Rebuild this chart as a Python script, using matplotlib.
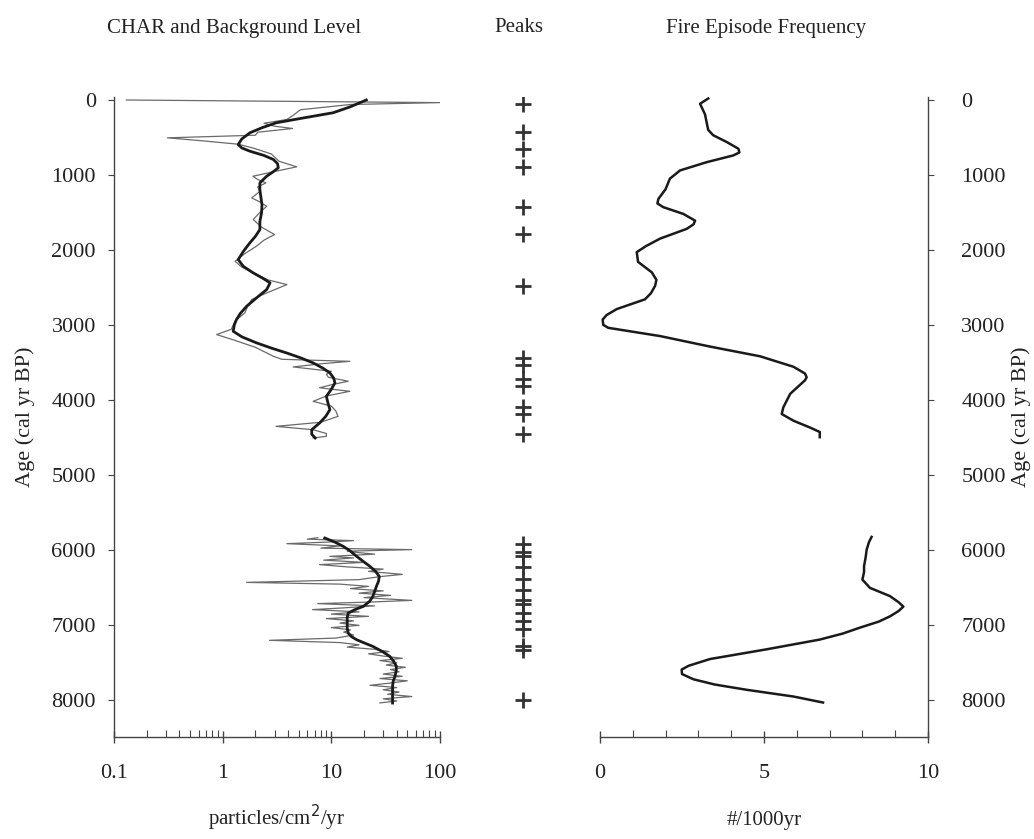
import matplotlib
matplotlib.use("Agg")
import matplotlib.pyplot as plt
from matplotlib.ticker import FixedLocator, LogLocator, NullFormatter, MultipleLocator

plt.rcParams['font.family'] = ['Liberation Serif', 'DejaVu Serif']

# ---------------- data ----------------
char_top_age = [0, 35, 60, 130, 200, 260, 310, 350, 380, 430, 470, 505, 540, 590, 650, 720,
                817, 892, 950, 1017, 1060, 1106, 1160, 1220, 1306, 1360, 1418, 1500, 1595, 1700,
                1795, 1870, 1950, 2050, 2152, 2230, 2307, 2400, 2463, 2575, 2663, 2750, 2841,
                2950, 3060, 3130, 3200, 3300, 3420, 3460, 3487, 3520, 3562, 3620, 3660, 3700,
                3753, 3800, 3840, 3887, 3950, 4021, 4085, 4150, 4221, 4300, 4355, 4400, 4450,
                4488, 4510]
char_top_val = [0.13, 100, 15, 5.2, 4.5, 3.9, 2.4, 3.0, 4.4, 2.1, 2.0, 0.31, 0.6, 1.4, 2.0, 2.8,
                3.3, 4.8, 3.1, 1.9, 2.1, 2.5, 2.1, 2.2, 1.85, 2.2, 2.54, 2.2, 1.91, 2.3,
                3.0, 2.4, 2.05, 1.6, 1.3, 1.5, 1.91, 2.6, 3.9, 2.54, 1.85, 1.7, 1.6,
                1.3, 1.2, 0.88, 1.25, 2.0, 2.93, 3.5, 14.8, 8, 4.45, 10, 9, 9.4,
                14.3, 10, 7.8, 14.8, 9, 6.8, 10, 11, 11.5, 8, 3.1, 6.8, 9,
                9.0, 6.8]

char_bot_age = [5840, 5860, 5880, 5900, 5920, 5950, 5980, 6000, 6020, 6040, 6060, 6090, 6110,
                6140, 6170, 6200, 6230, 6260, 6290, 6330, 6360, 6400, 6437, 6460, 6490, 6520,
                6550, 6580, 6610, 6640, 6677, 6700, 6720, 6750, 6780, 6800, 6830, 6860, 6890,
                6920, 6950, 6980, 7010, 7040, 7070, 7100, 7140, 7180, 7210, 7240, 7270, 7300,
                7330, 7360, 7390, 7420, 7450, 7480, 7510, 7540, 7570, 7600, 7630, 7660, 7690,
                7720, 7750, 7780, 7810, 7840, 7870, 7900, 7930, 7960, 7990, 8020, 8045]
char_bot_val = [7.5, 6, 16, 9, 3.9, 12, 8, 55, 14, 18, 25, 9.7, 16,
                8.5, 20, 7.8, 14, 30, 22, 45, 28, 18, 1.66, 12, 22, 15,
                30, 18, 35, 20, 55, 22, 7.5, 25, 12, 6.7, 18, 10, 22,
                9, 16, 12, 18, 10, 15, 13, 16, 11, 2.7, 12, 18, 14,
                25, 34, 22, 30, 45, 28, 40, 32, 48, 35, 42, 30, 45,
                28, 50, 35, 22.7, 40, 30, 42, 33, 55, 30, 40, 28]

bg_top_age = [0, 90, 170, 240, 305, 370, 438, 520, 594, 640, 683, 740, 794, 850, 905, 960,
              1017, 1106, 1200, 1300, 1400, 1506, 1620, 1729, 1820, 1906, 2020, 2129, 2220,
              2307, 2380, 2440, 2530, 2640, 2753, 2850, 2930, 3000, 3086, 3160, 3241, 3310,
              3375, 3440, 3508, 3580, 3642, 3710, 3775, 3860, 3954, 4040, 4132, 4220, 4310,
              4399, 4460, 4510]
bg_top_val = [21, 15, 10.4, 5.5, 3.1, 2.3, 1.78, 1.5, 1.39, 1.5, 1.78, 2.4, 2.93, 3.2, 3.25, 2.9,
              2.54, 2.2, 2.2, 2.25, 2.3, 2.28, 2.2, 2.2, 2.0, 1.78, 1.55, 1.39, 1.55,
              1.91, 2.35, 2.73, 2.54, 2.05, 1.66, 1.45, 1.34, 1.28, 1.25, 1.5, 2.05, 2.8,
              3.87, 5.2, 6.8, 8.4, 9.7, 10.5, 10.8, 10.0, 9.0, 9.3, 9.7, 8.9, 7.8,
              6.6, 6.6, 7.1]

bg_bot_age = [5845, 5900, 5957, 6020, 6090, 6160, 6224, 6290, 6357, 6420, 6490, 6560, 6624,
              6690, 6757, 6800, 6846, 6910, 6980, 7050, 7113, 7160, 7202, 7250, 7291, 7360,
              7424, 7490, 7558, 7620, 7691, 7760, 7825, 7940, 8047]
bg_bot_val = [8.7, 10.8, 12.9, 15.0, 17.1, 19.8, 22.7, 25.5, 27.6, 27.2, 26.0, 25.0, 24.1,
              22.5, 19.7, 16.5, 14.3, 14.0, 14.0, 14.0, 14.3, 15.3, 17.1, 20.5, 24.1, 29.5,
              34.5, 37.5, 39.7, 39.5, 38.5, 37.0, 36.6, 36.6, 36.6]

peak_ages = [50, 430, 660, 890, 1430, 1790, 2480, 3445, 3533, 3725, 3822, 4097, 4187, 4453,
             5920, 6036, 6080, 6231, 6391, 6533, 6676, 6720, 6844, 6956, 7057, 7280, 7343, 8000]

ff_top_age = [-20, 50, 190, 400, 470, 560, 650, 700, 740, 830, 940, 1050, 1190, 1320, 1380,
              1430, 1520, 1610, 1660, 1720, 1850, 1950, 2030, 2160, 2300, 2400, 2480, 2580,
              2660, 2790, 2870, 2930, 3000, 3040, 3150, 3290, 3420, 3560, 3650, 3700, 3740,
              3920, 4100, 4190, 4280, 4370, 4430, 4500]
ff_top_val = [3.3, 3.05, 3.2, 3.3, 3.45, 3.86, 4.22, 4.25, 4.06, 3.25, 2.44, 2.13, 2.0, 1.78, 1.75,
              1.93, 2.54, 2.9, 2.85, 2.64, 1.83, 1.4, 1.12, 1.16, 1.58, 1.72, 1.68, 1.55,
              1.37, 0.51, 0.2, 0.08, 0.1, 0.25, 1.83, 3.35, 4.88, 5.9, 6.25, 6.3, 6.25,
              5.8, 5.59, 5.54, 5.9, 6.4, 6.7, 6.7]

ff_bot_age = [5830, 5900, 6000, 6100, 6220, 6300, 6400, 6510, 6620, 6700, 6760, 6820, 6890,
              6960, 7040, 7120, 7200, 7330, 7460, 7550, 7600, 7660, 7730, 7800, 7870, 7960, 8040]
ff_bot_val = [8.28, 8.2, 8.13, 8.1, 8.05, 8.05, 8.0, 8.23, 8.84, 9.1, 9.25, 9.1, 8.84,
              8.5, 7.93, 7.4, 6.7, 5.08, 3.35, 2.7, 2.49, 2.5, 2.85, 3.5, 4.47, 5.9, 6.8]

age_ticks = [0, 1000, 2000, 3000, 4000, 5000, 6000, 7000, 8000]
char_ticks = [0.1, 1, 10, 100]
char_tick_labels = ['0.1', '1', '10', '100']
ff_ticks = [0, 5, 10]

# ---------------- figure ----------------
W, H = 1034, 839
fig = plt.figure(figsize=(W / 100, H / 100), dpi=100)

def fx(px):
    return px / W

def fy(py):
    return 1 - py / H

top_px, bot_px = 97, 737
ax_h = fy(top_px) - fy(bot_px)
ax1 = fig.add_axes([fx(114), fy(bot_px), fx(440) - fx(114), ax_h])
axm = fig.add_axes([fx(480), fy(bot_px), fx(566) - fx(480), ax_h])
ax2 = fig.add_axes([fx(600), fy(bot_px), fx(928) - fx(600), ax_h])

ylim = (8500, -40)
tick_fs = 16
line_col = '#1a1a1a'
thin_col = '#6a6a6a'
txt_col = '#222222'

# Left panel
ax1.plot(char_top_val, char_top_age, color=thin_col, lw=0.9)
ax1.plot(char_bot_val, char_bot_age, color=thin_col, lw=0.9)
ax1.plot(bg_top_val, bg_top_age, color=line_col, lw=2.0)
ax1.plot(bg_bot_val, bg_bot_age, color=line_col, lw=2.0)
ax1.set_xscale('log')
ax1.set_xlim(0.1, 100)
ax1.set_ylim(*ylim)
ax1.xaxis.set_major_locator(FixedLocator(char_ticks))
ax1.set_xticklabels(char_tick_labels)
ax1.xaxis.set_minor_locator(LogLocator(base=10, subs=range(2, 10)))
ax1.xaxis.set_minor_formatter(NullFormatter())
ax1.set_yticks(age_ticks)
ax1.set_yticklabels([str(a) for a in age_ticks])
for s in ['top', 'right']:
    ax1.spines[s].set_visible(False)
for s in ['left', 'bottom']:
    ax1.spines[s].set_color('#444444')
    ax1.spines[s].set_linewidth(1.0)
ax1.tick_params(axis='x', which='major', direction='inout', length=9, width=1, colors='#444444',
                labelcolor=txt_col, labelsize=tick_fs, pad=15)
ax1.tick_params(axis='x', which='minor', direction='in', length=5, width=0.8, colors='#444444')
ax1.tick_params(axis='y', which='major', direction='out', length=4, width=0.8, colors='#444444',
                labelcolor=txt_col, labelsize=tick_fs, pad=9)
ax1.set_xlabel('particles/cm$^2$/yr', fontsize=15, color=txt_col, labelpad=14)
ax1.set_ylabel('Age (cal yr BP)', fontsize=16, color=txt_col, labelpad=12)

# Middle panel (peaks)
axm.plot([0.5] * len(peak_ages), peak_ages, linestyle='none', marker='+', markersize=11,
         markeredgewidth=2.0, color='#333333')
axm.set_xlim(0, 1)
axm.set_ylim(*ylim)
axm.axis('off')

# Right panel
ax2.plot(ff_top_val, ff_top_age, color=line_col, lw=1.8)
ax2.plot(ff_bot_val, ff_bot_age, color=line_col, lw=1.8)
ax2.set_xlim(0, 10)
ax2.set_ylim(*ylim)
ax2.set_xticks(ff_ticks)
ax2.set_xticklabels([str(t) for t in ff_ticks])
ax2.xaxis.set_minor_locator(MultipleLocator(1))
ax2.yaxis.tick_right()
ax2.yaxis.set_label_position('right')
ax2.set_yticks(age_ticks)
ax2.set_yticklabels([str(a) for a in age_ticks])
for s in ['top', 'left']:
    ax2.spines[s].set_visible(False)
for s in ['right', 'bottom']:
    ax2.spines[s].set_color('#444444')
    ax2.spines[s].set_linewidth(1.0)
ax2.tick_params(axis='x', which='major', direction='inout', length=9, width=1, colors='#444444',
                labelcolor=txt_col, labelsize=tick_fs, pad=15)
ax2.tick_params(axis='x', which='minor', direction='in', length=5, width=0.8, colors='#444444')
ax2.tick_params(axis='y', which='major', direction='out', length=4, width=0.8, colors='#444444',
                labelcolor=txt_col, labelsize=tick_fs, pad=20)
ax2.set_xlabel('#/1000yr', fontsize=15, color=txt_col, labelpad=20)
ax2.set_ylabel('Age (cal yr BP)', fontsize=16, color=txt_col, labelpad=4, rotation=90)

# Titles
fig.text(fx(234), fy(33), 'CHAR and Background Level', fontsize=15, color=txt_col,
         ha='center', va='baseline')
fig.text(fx(519), fy(32), 'Peaks', fontsize=15, color=txt_col, ha='center', va='baseline')
fig.text(fx(766), fy(33), 'Fire Episode Frequency', fontsize=15, color=txt_col,
         ha='center', va='baseline')

fig.savefig('out.png', dpi=100, facecolor='white')
